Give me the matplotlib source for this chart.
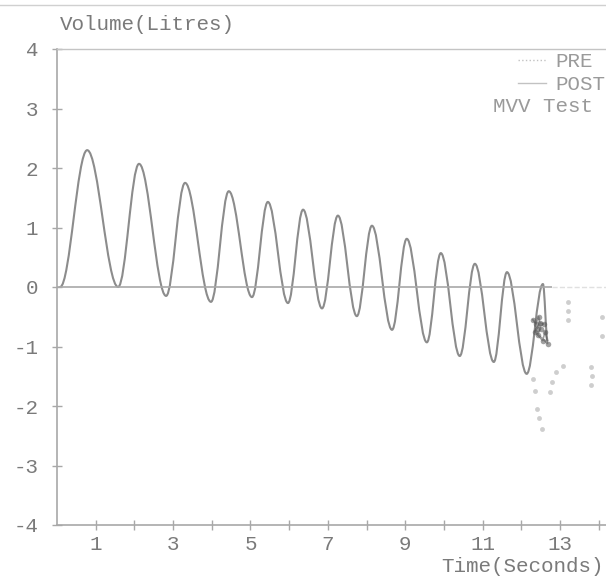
import numpy as np
import matplotlib
matplotlib.use("Agg")
import matplotlib.pyplot as plt
from matplotlib.path import Path
from matplotlib.patches import PathPatch


#%% Data (turning points of the breathing trace)
Post_Time = [0.08, 0.78, 1.58, 2.12, 2.82, 3.31, 3.98, 4.44, 5.04, 5.45,
             5.97, 6.36, 6.85, 7.26, 7.75, 8.14, 8.66, 9.04, 9.56, 9.92,
             10.41, 10.80, 11.29, 11.63, 12.14, 12.56, 12.68]
Post_Volume = [0.00, 2.30, 0.00, 2.07, -0.15, 1.75, -0.25, 1.61, -0.17, 1.43,
               -0.27, 1.30, -0.36, 1.20, -0.49, 1.03, -0.72, 0.81, -0.93, 0.57,
               -1.16, 0.39, -1.26, 0.25, -1.46, 0.05, -0.90]

# dark scribble at the end of the trace
Blob_Time   = [12.30, 12.38, 12.45, 12.50, 12.42, 12.55, 12.62, 12.68, 12.35, 12.48, 12.58, 12.40]
Blob_Volume = [-0.55, -0.62, -0.50, -0.70, -0.80, -0.90, -0.75, -0.95, -0.75, -0.60, -0.62, -0.70]

# faint broken PRE trace
Pre_Time   = [12.30, 12.36, 12.40, 12.47, 12.53, 12.74, 12.80, 12.90, 13.07, 13.20, 13.20, 13.22,
              13.80, 13.80, 13.82, 14.08, 14.08]
Pre_Volume = [-1.55, -1.75, -2.05, -2.20, -2.39, -1.77, -1.60, -1.43, -1.33, -0.55, -0.25, -0.40,
              -1.65, -1.35, -1.50, -0.83, -0.50]

XTicks      = list(range(1, 15))
Xticklabels = [str(t) if t % 2 == 1 else "" for t in XTicks]
YTicks      = [-4, -3, -2, -1, 0, 1, 2, 3, 4]
Yticklabels = [str(t) for t in YTicks]

Legend_Labels = ["PRE", "POST"]
Test_Name     = "MVV Test"
YLabel        = "Volume(Litres)"
XLabel        = "Time(Seconds)"


#%% Params
Fig_Width   = 6.06
Fig_Height  = 5.76

Axis_left   = 57 / 606
Axis_bottom = 1 - 525 / 576
Axis_width  = 1 - Axis_left
Axis_height = (525 - 49) / 576

XLim = [0, 14.19]
YLim = [-4, 4]
Zero_Line_End = 12.8

FontName  = ["Liberation Mono", "DejaVu Sans Mono"]
FontSize  = 15
TextColor = "#7a7a7a"

Color_Post  = "#8c8c8c"
Color_Pre   = "#c2c2c2"
Color_Blob  = "#555555"
Color_Axis  = "#a8a8a8"
Color_Top   = "#c4c4c4"

Bezier_k = 0.3634  # keeps each half-breath close to a cosine shape

plt.rcParams["axes.unicode_minus"] = False


#%% Figure
Fig = plt.figure(figsize=[Fig_Width, Fig_Height], dpi=100)
ax = Fig.add_axes([Axis_left, Axis_bottom, Axis_width, Axis_height])

# Smooth trace through turning points
verts = [(Post_Time[0], Post_Volume[0])]
codes = [Path.MOVETO]
for i in range(1, len(Post_Time)):
    t0, v0 = Post_Time[i - 1], Post_Volume[i - 1]
    t1, v1 = Post_Time[i], Post_Volume[i]
    dt = t1 - t0
    verts += [(t0 + Bezier_k * dt, v0), (t1 - Bezier_k * dt, v1), (t1, v1)]
    codes += [Path.CURVE4] * 3
ax.add_patch(PathPatch(Path(verts, codes), fill=False, edgecolor=Color_Post,
                       linewidth=1.5, capstyle="round", joinstyle="round"))

ax.plot(Blob_Time, Blob_Volume, color=Color_Blob, linewidth=1.2, alpha=0.55,
        marker="o", markersize=4, markeredgewidth=0)
ax.plot(Pre_Time, Pre_Volume, color=Color_Pre, linestyle="none",
        marker="o", markersize=3.5, markeredgewidth=0, alpha=0.8)

# zero line
ax.hlines(0, XLim[0], Zero_Line_End, color=Color_Axis, linewidth=1.2)
ax.hlines(0, Zero_Line_End, XLim[1], color="#e0e0e0", linewidth=1.0, linestyles="--")

# legend proxies
h_pre, = ax.plot([], [], color=Color_Pre, linewidth=1.0, linestyle=":")
h_post, = ax.plot([], [], color=Color_Pre, linewidth=1.0)
leg = Fig.legend([h_pre, h_post], Legend_Labels, loc="upper left",
                 bbox_to_anchor=(518 / 606, 1 - 52 / 576), frameon=False,
                 borderpad=0, borderaxespad=0, handlelength=1.35, handletextpad=0.45,
                 labelspacing=0.2, prop={"family": FontName, "size": FontSize})
for txt in leg.get_texts():
    txt.set_color("#9a9a9a")

Fig.text(493 / 606, 1 - 106 / 576, Test_Name, ha="left", va="center",
         family=FontName, fontsize=FontSize, color="#9a9a9a")

# axis labels placed like the printout
Fig.text(60 / 606, 1 - 24 / 576, YLabel, ha="left", va="center",
         family=FontName, fontsize=FontSize, color=TextColor)
Fig.text(441 / 606, 1 - 567 / 576, XLabel, ha="left", va="center",
         family=FontName, fontsize=FontSize, color=TextColor)

# ticks
ax.set_xlim(XLim)
ax.set_ylim(YLim)
ax.set_xticks(XTicks)
ax.set_xticklabels(Xticklabels, family=FontName, fontsize=FontSize, color=TextColor)
ax.set_yticks(YTicks)
ax.set_yticklabels(Yticklabels, family=FontName, fontsize=FontSize, color=TextColor)
ax.tick_params(axis="x", direction="inout", length=7, width=1.0, color=Color_Axis, pad=4)
ax.tick_params(axis="y", direction="inout", length=7, width=1.0, color=Color_Axis, pad=10)

ax.spines["right"].set_visible(False)
ax.spines[["left", "bottom"]].set_color(Color_Axis)
ax.spines[["left", "bottom"]].set_linewidth(1.2)
ax.spines["top"].set_color(Color_Top)
ax.spines["top"].set_linewidth(1.0)

# faint edge of the previous box on the scan
Fig.add_artist(plt.Line2D([0, 1], [1 - 5 / 576, 1 - 5 / 576], color="#d0d0d0",
                          linewidth=1.0, transform=Fig.transFigure))

Fig.savefig("out.png", dpi=100)
